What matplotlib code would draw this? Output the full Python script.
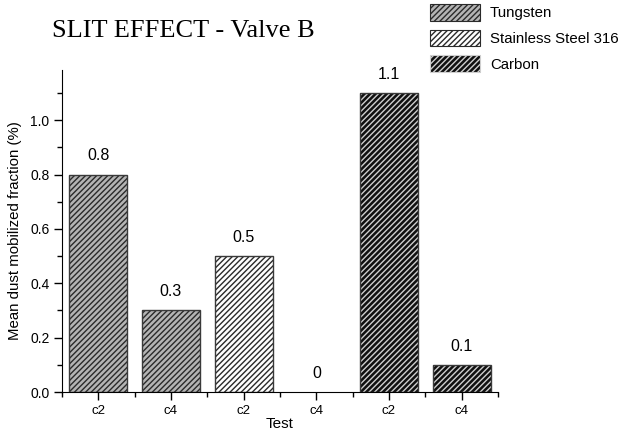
import matplotlib
matplotlib.use("Agg")
import matplotlib.pyplot as plt
from matplotlib.patches import Patch
from matplotlib.ticker import MultipleLocator, FixedLocator

tests = ["c2", "c4", "c2", "c4", "c2", "c4"]
materials = ["Tungsten", "Tungsten", "Stainless Steel 316", "Stainless Steel 316", "Carbon", "Carbon"]
values = [0.8, 0.3, 0.5, 0.0, 1.1, 0.1]
value_labels = ["0.8", "0.3", "0.5", "0", "1.1", "0.1"]
legend_order = ["Tungsten", "Stainless Steel 316", "Carbon"]

plt.rcParams['hatch.linewidth'] = 1.0
HATCH = "//////"
style = {
    "Tungsten": dict(face="#b4b4b4", hatch_color="#2a2a2a"),
    "Stainless Steel 316": dict(face="white", hatch_color="#2a2a2a"),
    "Carbon": dict(face="#101010", hatch_color="#cfcfcf"),
}
SANS = "Liberation Sans"

fig = plt.figure(figsize=(6.27, 4.40), dpi=100)
ax = fig.add_axes([62/627, 48/440, 436/627, 322/440])

xs = list(range(len(values)))
for x, v, m in zip(xs, values, materials):
    if v <= 0:
        continue
    s = style[m]
    ax.bar(x, v, width=0.8, color=s["face"], edgecolor=s["hatch_color"], hatch=HATCH, linewidth=0)
    ax.bar(x, v, width=0.8, fill=False, edgecolor="#3a3a3a", linewidth=1.0)

for x, v, lab in zip(xs, values, value_labels):
    ax.text(x, v + 0.052, lab, ha="center", va="baseline", fontsize=11.5, family=SANS)

ax.set_xlim(-0.5, 5.5)
ax.set_ylim(0, 1.185)
ax.spines["top"].set_visible(False)
ax.spines["right"].set_visible(False)
ax.xaxis.set_major_locator(FixedLocator(xs))
ax.set_xticklabels(tests, family=SANS, fontsize=9.5)
ax.xaxis.set_minor_locator(FixedLocator([x + 0.5 for x in xs[:-1]] + [-0.5, 5.5]))
ax.set_yticks([0, 0.2, 0.4, 0.6, 0.8, 1.0])
ax.yaxis.set_minor_locator(MultipleLocator(0.1))
ax.set_yticklabels(["0.0", "0.2", "0.4", "0.6", "0.8", "1.0"], family=SANS, fontsize=10)
ax.tick_params(which="major", direction="out", length=6, width=1, pad=3)
ax.tick_params(which="minor", direction="out", length=3.5, width=1)
ax.set_xlabel("Test", family=SANS, fontsize=11, labelpad=0)
ax.set_ylabel("Mean dust mobilized fraction (%)", family=SANS, fontsize=10.8, labelpad=6)

fig.text(52/627, 1 - 31/440, "SLIT EFFECT - Valve B", family="Liberation Serif", fontsize=19,
         va="center", ha="left")

handles = [Patch(facecolor=style[m]["face"], edgecolor=style[m]["hatch_color"], hatch=HATCH,
                 linewidth=0.8, label=m) for m in legend_order]
fig.legend(handles=handles, loc="upper left", bbox_to_anchor=(430/627, 1 - 4/440), frameon=False,
           prop={"family": SANS, "size": 10.8}, handlelength=3.33, handleheight=1.33,
           labelspacing=0.6, handletextpad=0.67, borderpad=0, borderaxespad=0)

fig.savefig("out.png", dpi=100)
